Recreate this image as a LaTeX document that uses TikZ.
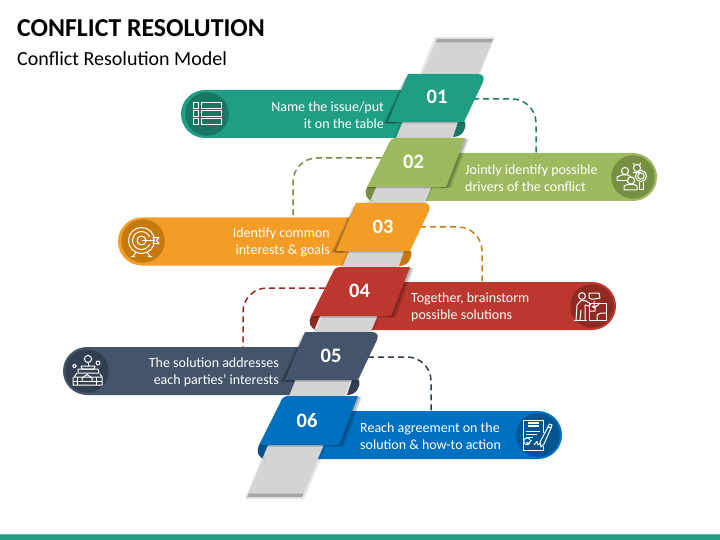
\documentclass[tikz,border=0pt]{standalone}
\usepackage{fontspec}
\setmainfont{Carlito}
\usetikzlibrary{calc}
\definecolor{cA}{HTML}{1F9E84}\definecolor{dA}{HTML}{187762}\definecolor{lA}{HTML}{1A7A66}
\definecolor{cB}{HTML}{9DBB5E}\definecolor{dB}{HTML}{768F42}\definecolor{lB}{HTML}{6F8F3A}
\definecolor{cC}{HTML}{F39C26}\definecolor{dC}{HTML}{C67A0D}\definecolor{lC}{HTML}{C77F12}
\definecolor{cD}{HTML}{BC372D}\definecolor{dD}{HTML}{8E2A22}\definecolor{lD}{HTML}{9A2A22}
\definecolor{cE}{HTML}{44546A}\definecolor{dE}{HTML}{323F50}\definecolor{lE}{HTML}{2D3B4E}
\definecolor{cF}{HTML}{0070C0}\definecolor{dF}{HTML}{005490}\definecolor{lF}{HTML}{1F3350}
\definecolor{bandgrey}{HTML}{D4D4D4}
\tikzset{
  x=1pt,y=-1pt,
  barbox/.style={fill=#1,draw=none,rounded corners=24pt,minimum height=48pt,inner sep=0pt},
  iconcirc/.style={circle,fill=#1,draw=none,minimum size=43.5pt,inner sep=0pt},
  numlabel/.style={text=white,font=\fontsize{20.5}{22}\selectfont\bfseries,inner sep=0pt},
  rlabel/.style={text=white,align=right,anchor=east,inner sep=0pt,font=\fontsize{14}{17}\selectfont},
  llabel/.style={text=white,align=left,anchor=west,inner sep=0pt,font=\fontsize{14}{17}\selectfont},
  conn/.style={draw=#1,line width=1.5pt,dash pattern=on 6pt off 4pt,rounded corners=24pt},
  ico/.style={draw=white,line width=1pt,fill=none,line join=round},
}
% odd card: #1 TL x, #2 top y, #3 TR x, #4 fill, #5 dark
\newcommand{\cardodd}[5]{%
  \fill[black,opacity=.12] (#1-3,#2+3) -- (#1-25,#2+50) -- (#1-12,#2+50) -- (#1+6,#2+2) -- cycle;
  \fill[black,opacity=.2] (#1-1.5,#2+3) -- (#1-23,#2+49) -- (#1-12,#2+49) -- (#1+6,#2+2) -- cycle;
  \fill[#5] (#3-26,#2+48) -- (#3-19,#2+48) .. controls (#3-17,#2+55) and (#3-22,#2+63) .. (#3-31,#2+63) -- cycle;
  \fill[black,opacity=.2] (#1-20,#2+48) -- (#3-20,#2+48) -- (#3-20.5,#2+49.5) -- (#1-20.5,#2+49.5) -- cycle;
  \fill[#4] (#1,#2) -- (#3-6,#2) .. controls (#3-1,#2) and (#3+1,#2+3) .. (#3-1,#2+8) -- (#3-20,#2+48) -- (#1-20,#2+48) -- cycle;
}
% even card: #1 TL x, #2 top y, #3 TR x, #4 fill, #5 dark
\newcommand{\cardeven}[5]{%
  \fill[black,opacity=.12] (#3-4,#2+1) -- (#3+4,#2+1) -- (#3-14,#2+50) -- (#3-24,#2+50) -- cycle;
  \fill[black,opacity=.2] (#3-4,#2+1) -- (#3+2,#2+1) -- (#3-16,#2+49.5) -- (#3-24,#2+49.5) -- cycle;
  \fill[#5] (#1-12,#2+49) -- (#1-21,#2+49) .. controls (#1-24,#2+55) and (#1-22,#2+62) .. (#1-15,#2+63) -- (#1-17.5,#2+62) -- cycle;
  \fill[black,opacity=.2] (#1-20,#2+49) -- (#3-18,#2+49) -- (#3-18.5,#2+50.5) -- (#1-20.5,#2+50.5) -- cycle;
  \fill[#4] (#1+7,#2) -- (#3,#2) -- (#3-19,#2+49) -- (#1-21,#2+49) -- (#1,#2+7) .. controls (#1+2,#2+2) and (#1+4,#2) .. (#1+7,#2) -- cycle;
}
\newcommand{\iconlist}[1]{\begin{scope}[shift={(#1)},ico]
  \foreach \yy in {-11,-3,5}{
    \draw (-14,\yy) rectangle (-8.5,\yy+5.5);
    \draw (-5.5,\yy) rectangle (14,\yy+5.5);}
\end{scope}}
\newcommand{\icontargetb}[1]{\begin{scope}[shift={(#1)},ico]
  \draw (-1.5,-0.5) circle[radius=13];
  \draw (-1.5,-0.5) circle[radius=9];
  \draw (-1.5,-0.5) circle[radius=4.5];
  \fill[dC] (4,-4) rectangle (18,3);
  \draw (-1.5,-0.5) -- (11,-0.5);
  \draw (10,-3.5) -- (16,-3.5) -- (13.5,-0.5) -- (16,2.5) -- (10,2.5) -- (11.5,-0.5) -- cycle;
  \draw (-7,11) -- (-10,15.5) (-12,15.5) -- (-8,15.5);
  \draw (4,11) -- (7,15.5) (5,15.5) -- (9,15.5);
\end{scope}}
\newcommand{\iconpeople}[1]{\begin{scope}[shift={(#1)},ico]
  \draw (-8,-6) circle[radius=3.6];
  \draw (-16,4) -- (-16,0) -- (-11,-2) -- (-5,-2) -- (-2,0);
  \draw (-16,4) -- (-6,4);
  \draw (4,-9) circle[radius=3.6];
  \draw (0.5,-14) -- (1.5,-11) (7.5,-14) -- (6.5,-11);
  \draw (0,-4.5) -- (8,-4.5);
  \draw (8,-1) circle[radius=5.6];
  \draw (8,-1) circle[radius=3.2];
  \draw (6.5,5) -- (6.5,13) -- (10,13) -- (10,5);
  \draw (-2,3.5) circle[radius=3.6];
  \draw (-9,13) -- (-9,9) -- (-5,7.5) -- (1,7.5) -- (4,9) -- (4,13) -- cycle;
\end{scope}}
\newcommand{\iconpuzzle}[1]{\begin{scope}[shift={(#1)},ico]
  \draw (-10,-10) circle[radius=3.4];
  \draw (-16,14) -- (-15,-1) -- (-11,-5.5) -- (-7,-5.5) -- (-1,-2) -- (-3,0) -- (-7,-1) -- (-7,14);
  \draw (-12,14) -- (-11,4);
  \draw (-18,14) -- (-5,14);
  \draw (-3,-13) -- (7,-13) -- (8,-8) -- (3,-7) -- (-1,-7) -- (-3,-8) -- cycle;
  \draw (-3,-3) -- (14,-3) -- (14,14) -- (-3,14) -- cycle;
  \draw (-3,5) -- (3,5) -- (3,1) -- (6,-1) -- (8,-3);
  \draw (5,14) -- (5,9) -- (9,7) -- (14,7);
  \draw (2,-5) -- (2,2) (0,0) -- (2,2) -- (4,0);
\end{scope}}
\newcommand{\iconmoney}[1]{\begin{scope}[shift={(#1)},ico]
  \draw (1,-12) circle[radius=3.6];
  \draw (1,-8) -- (1,-5);
  \draw (-6,-5) -- (8,-5) -- (7,-2) -- (-5,-2) -- cycle;
  \draw (-12.5,-5) circle[radius=1.8];
  \draw (11,-8) circle[radius=2];
  \draw (-9,-2) -- (11,-2) -- (12,2) -- (-9,2) -- cycle;
  \draw (-10,2) -- (-13,6) -- (14,6);
  \draw (-14,6) -- (-14,14) -- (15,14) -- (15,6) -- (13,3);
  \draw (-14,10) -- (15,10);
  \draw (-5,10) -- (-5,7) -- (0,3.5) -- (5,7) -- (5,10);
  \draw (-10,6) -- (-10,14) (9,6) -- (9,14);
\end{scope}}
\newcommand{\icondoc}[1]{\begin{scope}[shift={(#1)},ico]
  \draw (5.5,-2) -- (5.5,-15) -- (-15,-15) -- (-15,15) -- (5.5,15) -- (5.5,11);
  \draw[line width=1.5pt] (-10,-12) -- (1,-12) (-10,-9) -- (1,-9);
  \draw (-12,-4) -- (2,-4) (-12,-1) -- (-1,-1) (-12,2) -- (-5,2);
  \draw (-8,8) arc[start angle=30,end angle=330,radius=3.4];
  \draw (-11.5,7) -- (-10,9) -- (-6.5,5);
  \draw (-4,10) -- (-1,6.5) -- (0,10) -- (3,8);
  \draw (3,12) -- (2,7) -- (10,-8) -- (13,-7) -- (6,9) -- cycle;
  \draw (10,-8) -- (11.5,-11) -- (14,-10) -- (13,-7);
\end{scope}}
\begin{document}
\begin{tikzpicture}[x=1pt,y=-1pt]
\useasboundingbox (0,0) rectangle (720,540);
\fill[white] (0,0) rectangle (720,540);
% footer
\fill[cA!70!white] (0,534) rectangle (720,535);
\fill[cA] (0,535) rectangle (720,540);
% title
\node[anchor=base west,inner sep=0pt,font=\fontsize{25.8}{28}\selectfont\bfseries] (title) at (17,37) {CONFLICT RESOLUTION};
\node[anchor=base west,inner sep=0pt,font=\fontsize{20}{24}\selectfont] (subtitle) at (17,66) {Conflict Resolution Model};
% bars
\node[barbox=cA,minimum width=259pt] (bar1) at (310.5,114) {};
\node[barbox=cB,minimum width=272pt] (bar2) at (521,177) {};
\node[barbox=cC,minimum width=277pt] (bar3) at (256.5,241.5) {};
\node[barbox=cD,minimum width=281pt] (bar4) at (475.5,306) {};
\node[barbox=cE,minimum width=277pt] (bar5) at (201.5,371) {};
\node[barbox=cF,minimum width=287pt] (bar6) at (418.5,435) {};
% connector end points
\coordinate (s1) at (473,99);  \coordinate (t2) at (536,153);
\coordinate (s2) at (382,158); \coordinate (t3) at (293,217);
\coordinate (s3) at (420,227); \coordinate (t4) at (482,282);
\coordinate (s4) at (325,288); \coordinate (t5) at (243,347);
\coordinate (s5) at (368,357); \coordinate (t6) at (431,411);
\draw[conn=lA] (s1) -| (t2);
\draw[conn=lB] (s2) -| (t3);
\draw[conn=lC] (s3) -| (t4);
\draw[conn=lD] (s4) -| (t5);
\draw[conn=lE] (s5) -| (t6);
% central band
\fill[black,opacity=.10] (435,37) -- (495,37) -- (304,499) -- (245,499) -- cycle;
\fill[bandgrey] (437,39) -- (493,39) -- (302,497) -- (247,497) -- cycle;
\fill[gray!70] (437,39) -- (493,39) -- (491.5,42.5) -- (435.5,42.5) -- cycle;
\fill[gray!70] (248.5,493.5) -- (303.5,493.5) -- (302,497) -- (247,497) -- cycle;
% cards
\cardodd{408}{74}{484}{cA}{dA}
\cardeven{388}{138}{465}{cB}{dB}
\cardodd{356}{203}{430}{cC}{dC}
\cardeven{332}{267}{410}{cD}{dD}
\cardodd{305}{332}{378}{cE}{dE}
\cardeven{280}{396}{358}{cF}{dF}
% numbers
\node[numlabel] (n1) at (437,97) {01};
\node[numlabel] (n2) at (413.5,162) {02};
\node[numlabel] (n3) at (383,227) {03};
\node[numlabel] (n4) at (359.5,291) {04};
\node[numlabel] (n5) at (331,356) {05};
\node[numlabel] (n6) at (307,421) {06};
% labels
\node[rlabel] (l1) at (384,115.5) {Name the issue/put\\it on the table};
\node[llabel] (l2) at (465,178.5) {Jointly identify possible\\drivers of the conflict};
\node[rlabel] (l3) at (330,242.5) {Identify common\\interests \& goals};
\node[llabel] (l4) at (411,307.5) {Together, brainstorm\\possible solutions};
\node[rlabel] (l5) at (279,372.5) {The solution addresses\\each parties' interests};
\node[llabel] (l6) at (360,436.5) {Reach agreement on the\\solution \& how-to action};
% icon discs
\node[iconcirc=dA] (i1) at (207,114) {};
\node[iconcirc=dB] (i2) at (633,177) {};
\node[iconcirc=dC] (i3) at (143,241) {};
\node[iconcirc=dD] (i4) at (592,306) {};
\node[iconcirc=dE] (i5) at (87,371) {};
\node[iconcirc=dF] (i6) at (538,435) {};
\iconlist{207,114}
\iconpeople{633,177}
\icontargetb{143,241}
\iconpuzzle{592,306}
\iconmoney{87,371}
\icondoc{538,435}
\end{tikzpicture}
\end{document}
